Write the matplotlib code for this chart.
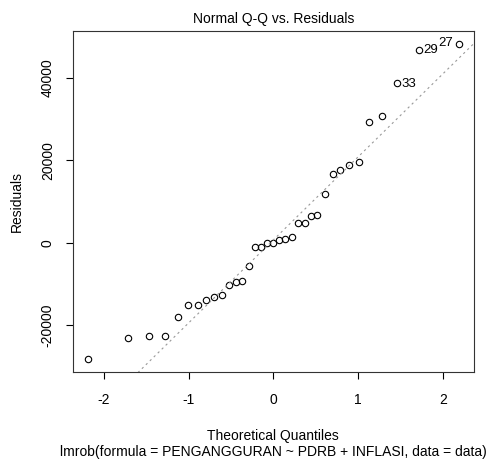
import matplotlib
matplotlib.use('Agg')
from matplotlib import pyplot as plt
import numpy as np

plt.rcParams['font.family'] = ['Liberation Sans', 'DejaVu Sans']

# theoretical normal quantiles (n = 35)
theo_q = [-2.19, -1.72, -1.465, -1.28, -1.13, -1.01, -0.89, -0.79, -0.70,
          -0.61, -0.52, -0.44, -0.37, -0.29, -0.22, -0.14, -0.07, 0.0,
          0.07, 0.14, 0.22, 0.29, 0.37, 0.44, 0.52, 0.61, 0.70, 0.79,
          0.89, 1.01, 1.13, 1.28, 1.465, 1.72, 2.19]
# sorted residuals
resid = [-28300, -23200, -22700, -22500, -17900, -15000, -15000, -13900,
         -13200, -12600, -10200, -9500, -9300, -5700, -1000, -1000, 0, 0,
         600, 900, 1500, 4800, 4800, 6400, 6800, 11900, 16700, 17600,
         18900, 19600, 29300, 30800, 38800, 46900, 48400]
# labelled points: index, label, side
labels = [(32, '33', 'right'), (33, '29', 'right'), (34, '27', 'left')]

x = np.array(theo_q)
y = np.array(resid)

fig = plt.figure(figsize=(4.92, 4.61), dpi=100)
ax = fig.add_axes([0.148, 0.193, 0.815, 0.74])

ax.plot(x, y, 'o', mfc='none', mec='black', ms=4.6, mew=0.8)

# qqline through the quartiles
q1, q3 = np.percentile(y, [25, 75])
slope = (q3 - q1) / (0.6745 * 2)
icpt = (q1 + q3) / 2
xl = np.array([-3, 3])
ax.plot(xl, icpt + slope * xl, color='#999999', ls=(0, (2, 3)), lw=0.8)

for i, lab, side in labels:
    if side == 'right':
        ax.annotate(lab, (x[i], y[i]), xytext=(3, -0.5), textcoords='offset points',
                    ha='left', va='center', fontsize=9.5)
    else:
        ax.annotate(lab, (x[i], y[i]), xytext=(-4, 0.5), textcoords='offset points',
                    ha='right', va='center', fontsize=9.5)

xr = x.max() - x.min()
yr = y.max() - y.min()
ax.set_xlim(x.min() - 0.04 * xr, x.max() + 0.04 * xr)
ax.set_ylim(y.min() - 0.04 * yr, y.max() + 0.04 * yr)

ax.set_xticks([-2, -1, 0, 1, 2])
ax.set_xticklabels(['-2', '-1', '0', '1', '2'])
ax.set_yticks([-20000, 0, 20000, 40000])
ax.set_yticklabels(['-20000', '0', '20000', '40000'], rotation=90, va='center')
ax.tick_params(direction='out', length=5, width=0.8, labelsize=10, colors='black')
ax.tick_params(axis='x', pad=10)
ax.tick_params(axis='y', pad=8)
for s in ax.spines.values():
    s.set_linewidth(0.8)
    s.set_color('#333333')

ax.set_title('Normal Q-Q vs. Residuals', fontsize=10, pad=6)
ax.set_ylabel('Residuals', fontsize=10, labelpad=12)
fig.text(0.555, 0.054, 'Theoretical Quantiles', ha='center', va='center', fontsize=10)
fig.text(0.555, 0.019, 'lmrob(formula = PENGANGGURAN ~ PDRB + INFLASI, data = data)',
         ha='center', va='center', fontsize=10)

fig.savefig('out.png', dpi=100)
